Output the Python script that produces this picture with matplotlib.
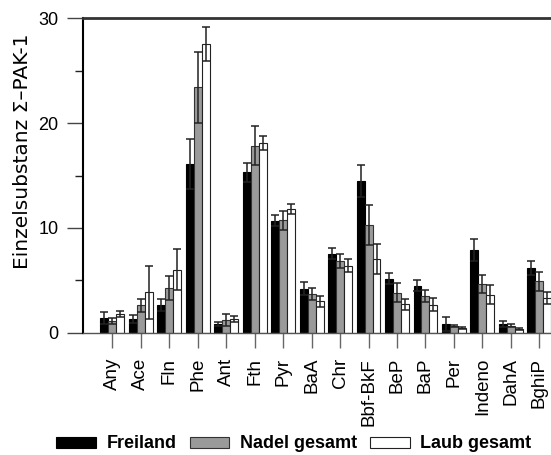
import matplotlib
matplotlib.use("Agg")
import matplotlib.pyplot as plt
from matplotlib.ticker import MultipleLocator
import numpy as np

plt.rcParams['font.family'] = ['Liberation Sans', 'DejaVu Sans']

categories = ['Any', 'Ace', 'Fln', 'Phe', 'Ant', 'Fth', 'Pyr', 'BaA', 'Chr',
              'Bbf-BkF', 'BeP', 'BaP', 'Per', 'Indeno', 'DahA', 'BghiP']
freiland = [1.41, 1.32, 2.65, 16.1, 0.84, 15.3, 10.7, 4.2, 7.55, 14.5, 5.17, 4.5, 0.84, 7.93, 0.84, 6.19]
freiland_err = [0.55, 0.41, 0.54, 2.35, 0.22, 0.92, 0.54, 0.63, 0.51, 1.5, 0.54, 0.55, 0.7, 1.05, 0.29, 0.67]
nadel = [1.1, 2.62, 4.27, 23.4, 1.22, 17.84, 10.72, 3.71, 6.86, 10.31, 3.84, 3.49, 0.65, 4.67, 0.68, 4.92]
nadel_err = [0.28, 0.64, 1.15, 3.36, 0.57, 1.84, 0.9, 0.58, 0.66, 1.91, 0.95, 0.57, 0.12, 0.88, 0.13, 0.92]
laub = [1.76, 3.86, 6.02, 27.52, 1.32, 18.1, 11.81, 3.01, 6.41, 7.05, 2.7, 2.67, 0.46, 3.65, 0.36, 3.33]
laub_err = [0.29, 2.51, 1.94, 1.62, 0.31, 0.63, 0.48, 0.54, 0.64, 1.45, 0.5, 0.63, 0.12, 0.92, 0.1, 0.54]

x = np.arange(len(categories))
w = 0.28

fig = plt.figure(figsize=(5.51, 4.55), dpi=100)
ax = fig.add_axes([0.1512, 0.2686, 0.8488, 0.6912])

err_kw = dict(ecolor='#222222', elinewidth=1.1, capsize=3, capthick=1.1)
ax.bar(x - w, freiland, w, yerr=freiland_err, color='black', edgecolor='black',
       linewidth=0.8, label='Freiland', error_kw=err_kw)
ax.bar(x, nadel, w, yerr=nadel_err, color='#9a9a9a', edgecolor='#333333',
       linewidth=0.8, label='Nadel gesamt', error_kw=err_kw)
ax.bar(x + w, laub, w, yerr=laub_err, color='white', edgecolor='#222222',
       linewidth=0.8, label='Laub gesamt', error_kw=err_kw)

ax.set_xlim(-1.02, 15.41)
ax.set_ylim(0, 30)
ax.yaxis.set_major_locator(MultipleLocator(10))
ax.yaxis.set_minor_locator(MultipleLocator(5))
ax.tick_params(axis='y', which='major', direction='out', length=11.5, width=1,
               color='#444444', labelsize=13, pad=6.5)
ax.tick_params(axis='y', which='minor', direction='out', length=5.8, width=1,
               color='#222222')
ax.set_xticks(x)
ax.set_xticklabels(categories, rotation=90)
ax.tick_params(axis='x', direction='out', length=11, width=1, color='#666666',
               labelsize=13.5, pad=7)

ax.spines['right'].set_visible(False)
ax.spines['top'].set_color('#333333')
ax.spines['top'].set_linewidth(2)
ax.spines['left'].set_linewidth(1.5)
ax.spines['bottom'].set_color('#555555')
ax.spines['bottom'].set_linewidth(1)

# Achsentitel im Original deutlich gestreckt -> breitere Schrift
fig.text(23 / 551, 1 - 151 / 455, 'Einzelsubstanz \u03a3\u2013PAK-1', rotation=90,
         ha='center', va='center', fontsize=14.5, family='DejaVu Sans')

fig.legend(loc='center', bbox_to_anchor=(294 / 551, 1 - 444 / 455), ncol=3,
           frameon=False, prop={'weight': 'bold', 'size': 13},
           handlelength=2.2, handleheight=0.55, handletextpad=0.6,
           columnspacing=0.7, borderaxespad=0)

plt.savefig('out.png', dpi=100)
